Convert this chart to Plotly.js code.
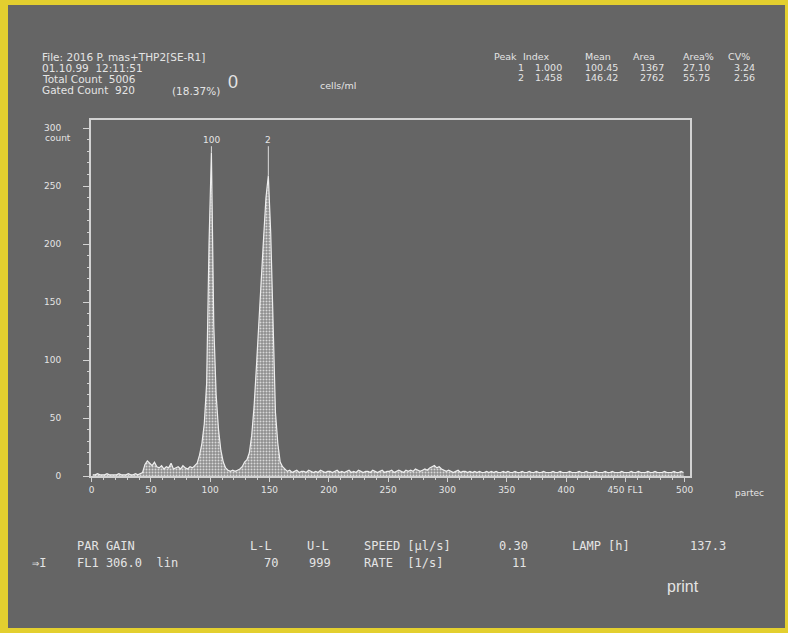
<!DOCTYPE html>
<html><head><meta charset="utf-8">
<script src="https://cdn.plot.ly/plotly-3.0.1.min.js"></script>
<style>
html,body{margin:0;padding:0;background:#e3cf2f;width:788px;height:633px;overflow:hidden;}
#chart{position:absolute;left:8px;top:5px;width:777px;height:623px;}
</style></head><body><div id="chart"></div>
<script>
// Histogram counts, bins of width 2 centred at 1,3,5,...,499 (FL1 channel)
const counts = [
  1,1,2,1,1,1,2,1,1,1,
  1,2,1,1,1,2,1,1,2,1,
  2,3,10,13,11,9,12,8,7,9,
  6,8,7,11,6,7,8,6,9,7,
  6,8,7,9,11,18,28,45,80,200,
  279,130,70,40,22,12,7,5,4,5,
  4,5,6,8,12,14,20,35,60,95,
  135,170,205,240,259,210,130,55,28,12,
  8,6,4,5,3,4,5,3,4,4,
  3,5,4,3,4,3,5,4,3,4,
  4,3,4,5,3,4,3,4,5,3,
  4,3,5,4,3,4,4,3,5,4,
  3,4,5,3,4,4,5,3,4,5,
  4,3,5,4,5,4,6,5,4,5,
  6,5,7,8,9,7,8,6,5,4,
  5,4,3,4,5,3,4,4,3,4,
  3,4,3,4,3,3,4,3,4,3,
  4,3,3,4,3,4,3,3,4,3,
  3,4,3,3,4,3,3,4,3,3,
  4,3,3,3,4,3,3,4,3,3,
  3,4,3,3,3,4,3,3,4,3,
  3,3,4,3,3,3,4,3,3,4,
  3,3,3,4,3,3,3,4,3,3,
  4,3,3,3,4,3,3,4,3,3,
  3,4,3,3,3,4,3,3,4,3
];
const xTickVals = [0,50,100,150,200,250,300,350,400,450,500];
const xTickText = ["0","50","100","150","200","250","300","350","400","450 FL1","500"];
const yTickVals = [0,50,100,150,200,250,300];
const yTickText = ["0","50","100","150","200","250","300"];
const peakPos = [101,149];
const peakLabels = ["100","2"];

const headerLeft = ["File: 2016 P. mas+THP2[SE-R1]","01.10.99  12:11:51","Total Count  5006","Gated Count  920"];
const gatedPct = "(18.37%)";
const tableHeader = ["Peak","Index","Mean","Area","Area%","CV%"];
const tableRow1 = ["1","1.000","100.45","1367","27.10","3.24"];
const tableRow2 = ["2","1.458","146.42","2762","55.75","2.56"];
const bottomRow1 = ["PAR GAIN","L-L","U-L","SPEED [µl/s]","0.30","LAMP [h]","137.3"];
const bottomRow2 = ["⇒I","FL1 306.0  lin","70","999","RATE  [1/s]","11"];

// pixel -> paper helpers (plot area spans x 91..690, y 120..476 in page px)
const PX0=91, PW=599, PY0=476, PH=356;
const xp = p => (p-PX0)/PW;
const yp = p => (PY0-p)/PH;
const TXT = '#e4e4e4';
const ann = [];
function t(text,x,y,size,fam,anchor){
  ann.push({text:text,xref:'paper',yref:'paper',x:xp(x),y:yp(y),xanchor:anchor||'left',yanchor:'middle',
    showarrow:false,font:{size:size,family:fam,color:TXT}});
}
const SANS='DejaVu Sans, Verdana, sans-serif';
const MONO='DejaVu Sans Mono, monospace';
const hy=[57,68,79,90];
headerLeft.forEach((s,i)=>t(s,40,hy[i],10.5,SANS));
t(gatedPct,170,91,10.5,SANS);
t("0",226,82,18,'Liberation Sans, Arial, sans-serif');
t("cells/ml",318,85,9.5,SANS);
tableHeader.forEach((s,i)=>t(s,[492,521,583,631,681,726][i],56,9.5,SANS));
const tcx=[516,533,583,638,681,732];
tableRow1.forEach((s,i)=>t(s,tcx[i],67,9.5,SANS));
tableRow2.forEach((s,i)=>t(s,tcx[i],77,9.5,SANS));
const b1x=[75,248,305,362,497,570,688];
bottomRow1.forEach((s,i)=>t(s,b1x[i],546,12,MONO));
const b2x=[30,75,262,307,362,510];
bottomRow2.forEach((s,i)=>t(s,b2x[i],563,12,MONO));
t("print",665,586,16,'Liberation Sans, Arial, sans-serif');
t("partec",733,493,9,SANS);
// y axis unit label
ann.push({text:'count',xref:'paper',yref:'y',x:xp(43),y:300,xanchor:'left',yanchor:'top',yshift:-3,
  showarrow:false,font:{size:9,family:SANS,color:TXT}});
// peak labels with thin marker line down to the peak top
peakPos.forEach((p,i)=>ann.push({text:peakLabels[i],xref:'x',yref:'y',x:p,y:counts[(p-1)/2],
  axref:'x',ayref:'y',ax:p,ay:290,showarrow:true,arrowhead:0,arrowwidth:1,arrowcolor:'#dddddd',
  standoff:0,startstandoff:0,font:{size:9,family:SANS,color:TXT}}));

const trace = {
  type:'scatter', mode:'lines', y:counts, x0:1, dx:2,
  line:{shape:'linear',color:'#eeeeee',width:1.2},
  fill:'tozeroy', fillcolor:'#a0a0a0',
  fillpattern:{shape:'.',fgcolor:'#d8d8d8',bgcolor:'#8e8e8e',size:3,solidity:0.35},
  hoverinfo:'skip'
};
const axCol='#d2d2d2';
const layout = {
  width:777, height:623,
  margin:{l:83,r:95,t:115,b:152},
  paper_bgcolor:'#656565', plot_bgcolor:'#656565',
  showlegend:false,
  xaxis:{range:[-0.5,504.5],tickvals:xTickVals,ticktext:xTickText,ticks:'outside',ticklen:4,tickcolor:axCol,
    showline:true,linecolor:axCol,linewidth:2,mirror:true,showgrid:false,zeroline:false,
    tickfont:{size:9,family:SANS,color:TXT},
    minor:{dtick:10,ticks:'outside',ticklen:2,tickcolor:axCol}},
  yaxis:{range:[0,307],tickvals:yTickVals,ticktext:yTickText,ticks:'outside',ticklen:6,tickcolor:axCol,
    showline:true,linecolor:axCol,linewidth:2,mirror:true,showgrid:false,zeroline:false,
    ticklabelstandoff:20,
    tickfont:{size:9,family:SANS,color:TXT},
    minor:{dtick:10,ticks:'outside',ticklen:2,tickcolor:axCol}},
  annotations:ann
};
Plotly.newPlot('chart',[trace],layout,{displayModeBar:false,staticPlot:true});
</script></body></html>
